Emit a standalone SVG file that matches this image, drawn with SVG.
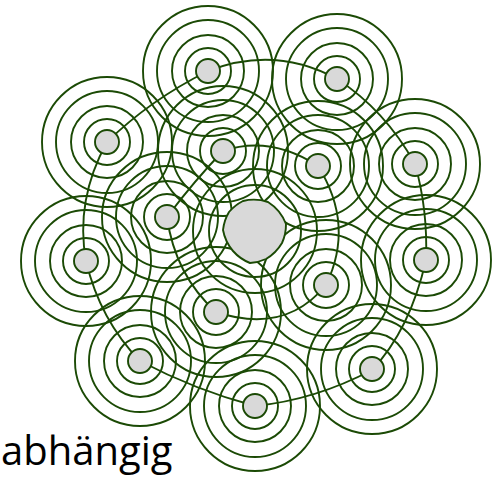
<svg xmlns="http://www.w3.org/2000/svg" width="501" height="477" viewBox="0 0 501 477">
<style>
.ring{fill:none;stroke:#1b4a05;stroke-width:1.9}
.core{fill:#d9d9d9;stroke:#1b4a05;stroke-width:1.9}
.edge{fill:none;stroke:#1b4a05;stroke-width:1.9}
.lbl{font-family:"Open Sans","Noto Sans",sans-serif;font-size:40px;fill:#000}
</style>
<defs>
<g id="rings">
<circle class="ring" r="23"/>
<circle class="ring" r="36"/>
<circle class="ring" r="51"/>
<circle class="ring" r="65"/>
</g>
</defs>
<g id="connectors">
<path class="edge" d="M107,142 Q150,100 208,71"/>
<path class="edge" d="M208,71 Q275,45 337,79"/>
<path class="edge" d="M337,79 Q385,110 415,164"/>
<path class="edge" d="M415,164 Q428,210 426,260"/>
<path class="edge" d="M426,260 Q410,330 372,370"/>
<path class="edge" d="M372,370 Q315,400 255,406"/>
<path class="edge" d="M255,406 Q195,390 140,361"/>
<path class="edge" d="M140,361 Q100,320 86,261"/>
<path class="edge" d="M86,261 Q75,200 107,142"/>
<path class="edge" d="M223,151 Q195,180 167,217"/>
<path class="edge" d="M167,217 Q175,275 216,312"/>
<path class="edge" d="M216,312 Q285,335 326,285"/>
<path class="edge" d="M326,285 Q355,225 318,166"/>
<path class="edge" d="M318,166 Q270,135 223,151"/>
</g>
<g id="n1"><use href="#rings" x="208" y="71"/><circle class="core" cx="208" cy="71" r="12"/></g>
<g id="n2"><use href="#rings" x="337" y="79"/><circle class="core" cx="337" cy="79" r="12"/></g>
<g id="n3"><use href="#rings" x="107" y="142"/><circle class="core" cx="107" cy="142" r="12"/></g>
<g id="n4"><use href="#rings" x="223" y="151"/><circle class="core" cx="223" cy="151" r="12"/></g>
<g id="n5"><use href="#rings" x="318" y="166"/><circle class="core" cx="318" cy="166" r="12"/></g>
<g id="n6"><use href="#rings" x="415" y="164"/><circle class="core" cx="415" cy="164" r="12"/></g>
<g id="n7"><use href="#rings" x="167" y="217"/><circle class="core" cx="167" cy="217" r="12"/></g>
<g id="n8"><use href="#rings" x="86" y="261"/><circle class="core" cx="86" cy="261" r="12"/></g>
<g id="n9"><use href="#rings" x="426" y="260"/><circle class="core" cx="426" cy="260" r="12"/></g>
<g id="n10"><use href="#rings" x="326" y="285"/><circle class="core" cx="326" cy="285" r="12"/></g>
<g id="n11"><use href="#rings" x="216" y="312"/><circle class="core" cx="216" cy="312" r="12"/></g>
<g id="n12"><use href="#rings" x="140" y="361"/><circle class="core" cx="140" cy="361" r="12"/></g>
<g id="n13"><use href="#rings" x="372" y="369"/><circle class="core" cx="372" cy="369" r="12"/></g>
<g id="n14"><use href="#rings" x="255" y="406"/><circle class="core" cx="255" cy="406" r="12"/></g>
<g id="center">
<circle class="ring" cx="255" cy="231" r="46"/>
<circle class="ring" cx="255" cy="231" r="62"/>
<path class="core" d="M243,201 A45,45 0 0 1 268,202 A45,45 0 0 1 286,224 A45,45 0 0 1 282,243 A45,45 0 0 1 266,259 A45,45 0 0 1 250,263 A45,45 0 0 1 233,251 A45,45 0 0 1 223,230 A45,45 0 0 1 229,212 A45,45 0 0 1 243,201 Z"/>
</g>
<text class="lbl" x="1" y="465">abhängig</text>
</svg>
